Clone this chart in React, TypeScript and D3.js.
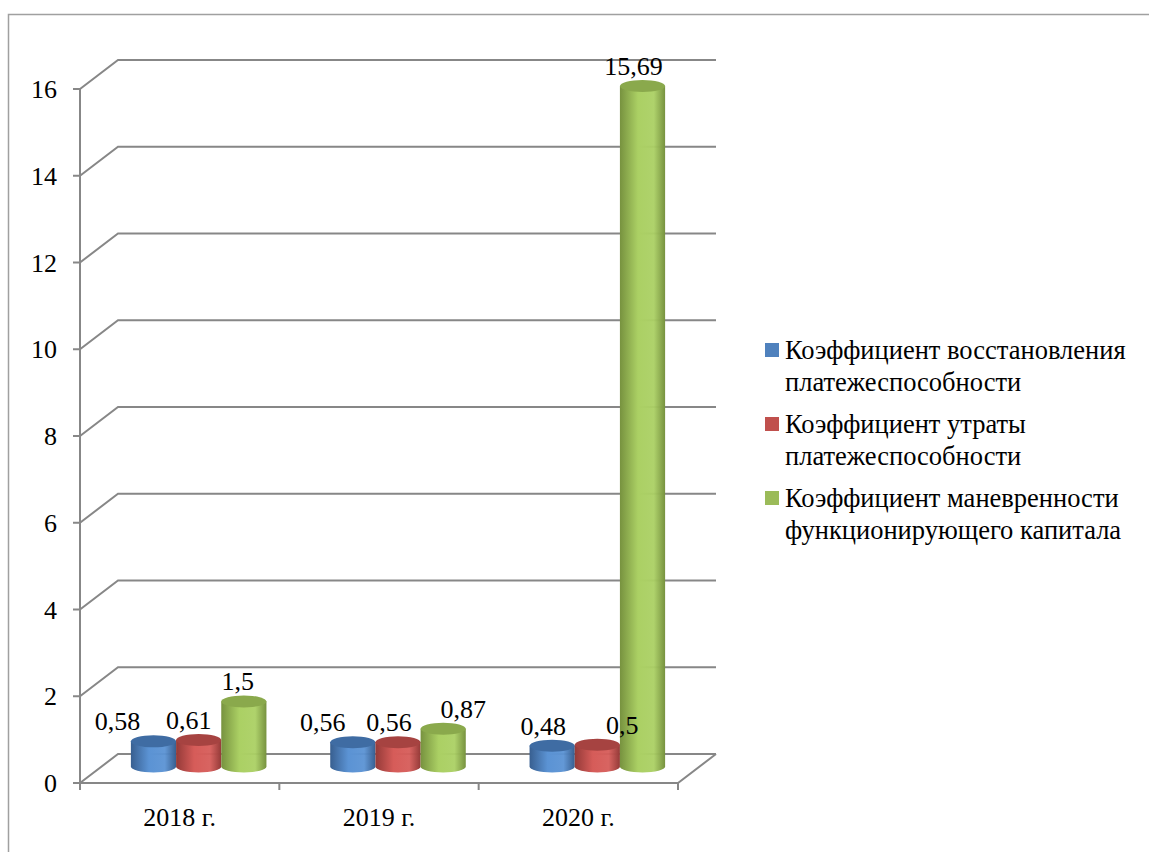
import { scaleBand, scaleLinear, range } from "d3";

const CATEGORIES = ["2018 г.", "2019 г.", "2020 г."];
const SERIES = [
  "Коэффициент восстановления платежеспособности",
  "Коэффициент утраты платежеспособности",
  "Коэффициент маневренности функционирующего капитала",
];
const LEGEND_LINES = [
  ["Коэффициент восстановления", "платежеспособности"],
  ["Коэффициент утраты", "платежеспособности"],
  ["Коэффициент маневренности", "функционирующего капитала"],
];
const RESTORE = [0.58, 0.56, 0.48];
const LOSS = [0.61, 0.56, 0.5];
const MANEUVER = [1.5, 0.87, 15.69];
const Y_TICKS = [0, 2, 4, 6, 8, 10, 12, 14, 16];

const COLORS = [
  { base: "#4f81bd", dark: "#385f90", light: "#5b93d4", top: "#3f6ca3" },
  { base: "#c0504d", dark: "#943a38", light: "#d65c59", top: "#a64341" },
  { base: "#9bbb59", dark: "#77923f", light: "#abd064", top: "#8aa94c" },
];
// manual label nudges (the original labels were dragged around)
const LABEL_NUDGE = [
  [-36, -10, -6],
  [-30, -9, 20],
  [-9, 25, -9],
];

const W = 1149;
const H = 852;
const AX = { left: 80, right: 678, top: 89, bottom: 783 };
const DX = 38;
const DY = -29;
const RY = 6;
const FONT = "Liberation Serif, DejaVu Serif, serif";
const GRID = "#878787";
const FS = 26;

const fmt = (v: number) => String(v).replace(".", ",");

export default function App() {
  const values = [RESTORE, LOSS, MANEUVER];
  const y = scaleLinear().domain([0, 16]).range([AX.bottom, AX.top]);
  const x0 = scaleBand<string>().domain(CATEGORIES).range([AX.left, AX.right]);
  const groupW = x0.bandwidth() * 0.68;
  const x1 = scaleBand<number>().domain(range(SERIES.length)).range([-groupW / 2, groupW / 2]);
  const bw = x1.bandwidth();
  const rx = bw / 2;
  const base = y(0) + DY / 2 - 2;

  return (
    <svg
      width={W}
      height={H}
      viewBox={`0 0 ${W} ${H}`}
      style={{ position: "absolute", left: 0, top: 0, background: "#fff", fontFamily: FONT }}
    >
      <defs>
        {COLORS.map((c, i) => (
          <linearGradient key={i} id={`side${i}`} x1="0" x2="1" y1="0" y2="0">
            <stop offset="0" stopColor={c.dark} />
            <stop offset="0.4" stopColor={c.light} />
            <stop offset="0.75" stopColor={c.light} stopOpacity={0.95} />
            <stop offset="1" stopColor={c.dark} />
          </linearGradient>
        ))}
      </defs>
      {/* outer frame */}
      <path d={`M8.5,${H} V14.5 H${W}`} fill="none" stroke="#a0a0a0" strokeWidth={1.5} />

      {/* walls and gridlines */}
      {Y_TICKS.map((t) => (
        <g key={t} stroke={GRID} strokeWidth={2} fill="none">
          <path d={`M${AX.left},${y(t)} L${AX.left + DX},${y(t) + DY} H${AX.right + DX}`} />
          <line x1={AX.left - 7} x2={AX.left} y1={y(t)} y2={y(t)} />
        </g>
      ))}
      <g stroke={GRID} strokeWidth={2} fill="none">
        <line x1={AX.left} x2={AX.left} y1={AX.top} y2={AX.bottom} />
        <path d={`M${AX.left},${AX.bottom} H${AX.right} L${AX.right + DX},${AX.bottom + DY}`} />
        {[...CATEGORIES.map((c) => x0(c) as number), AX.right].map((px, i) => (
          <line key={i} x1={px} x2={px} y1={AX.bottom} y2={AX.bottom + 7} />
        ))}
      </g>

      {/* y tick labels */}
      {Y_TICKS.map((t) => (
        <text key={t} x={AX.left - 23} y={y(t) + 9} textAnchor="end" fontSize={FS} fill="#000">
          {t}
        </text>
      ))}

      {/* category labels */}
      {CATEGORIES.map((c) => (
        <text
          key={c}
          x={(x0(c) as number) + x0.bandwidth() / 2}
          y={826}
          textAnchor="middle"
          fontSize={FS}
          fill="#000"
        >
          {c}
        </text>
      ))}

      {/* cylinders */}
      {CATEGORIES.map((c, ci) => {
        const cx = (x0(c) as number) + x0.bandwidth() / 2 + DX / 2;
        return (
          <g key={c}>
            {values.map((vals, si) => {
              const v = vals[ci];
              const left = cx + (x1(si) as number);
              const right = left + bw;
              const top = base - (y(0) - y(v));
              const side = `M${left},${top} V${base} A${rx},${RY} 0 0 0 ${right},${base} V${top} Z`;
              return (
                <g key={si}>
                  <path d={side} fill={`url(#side${si})`} />
                  <ellipse cx={left + rx} cy={top} rx={rx} ry={RY} fill={COLORS[si].top} />
                </g>
              );
            })}
            {values.map((vals, si) => {
              const v = vals[ci];
              const top = base - (y(0) - y(v));
              const lx = cx + (x1(si) as number) + rx + LABEL_NUDGE[ci][si];
              return (
                <text key={si} x={lx} y={top - RY - 5} textAnchor="middle" fontSize={FS} fill="#000">
                  {fmt(v)}
                </text>
              );
            })}
          </g>
        );
      })}

      {/* legend */}
      {LEGEND_LINES.map((lines, i) => (
        <g key={i} transform={`translate(765,${343 + i * 74})`}>
          <rect width={14} height={14} fill={COLORS[i].base} />
          {lines.map((ln, k) => (
            <text key={k} x={20} y={16 + k * 32} fontSize={26.5} fill="#000">
              {ln}
            </text>
          ))}
        </g>
      ))}
    </svg>
  );
}
